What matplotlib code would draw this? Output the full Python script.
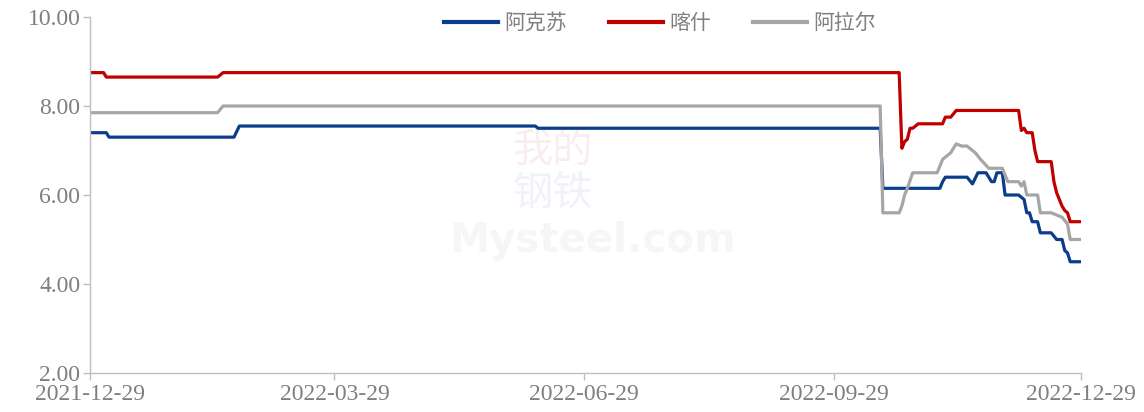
import pandas as pd
import matplotlib
matplotlib.use("Agg")
import matplotlib.pyplot as plt
import matplotlib.dates as mdates
from matplotlib.ticker import FormatStrFormatter

plt.rcParams['font.family'] = ['Liberation Serif', 'Noto Sans CJK SC', 'DejaVu Sans']

# 阿克苏
aks_dates = ["2021-12-29", "2022-01-04", "2022-01-05", "2022-02-20", "2022-02-22",
             "2022-06-11", "2022-06-12", "2022-10-16", "2022-10-17", "2022-11-07",
             "2022-11-08", "2022-11-09", "2022-11-17", "2022-11-19", "2022-11-21",
             "2022-11-24", "2022-11-26", "2022-11-27", "2022-11-28", "2022-11-30",
             "2022-12-01", "2022-12-06", "2022-12-07", "2022-12-08", "2022-12-09",
             "2022-12-10", "2022-12-11", "2022-12-13", "2022-12-14", "2022-12-18",
             "2022-12-20", "2022-12-22", "2022-12-23", "2022-12-24", "2022-12-25",
             "2022-12-30"]
aks_vals = [7.40, 7.40, 7.30, 7.30, 7.55,
            7.55, 7.50, 7.50, 6.15, 6.15,
            6.30, 6.40, 6.40, 6.25, 6.50,
            6.50, 6.30, 6.30, 6.50, 6.50,
            6.00, 6.00, 5.95, 5.90, 5.60,
            5.60, 5.40, 5.40, 5.15, 5.15,
            5.00, 5.00, 4.75, 4.70, 4.50,
            4.50]

# 喀什
ks_dates = ["2021-12-29", "2022-01-03", "2022-01-04", "2022-02-14", "2022-02-16",
            "2022-10-23", "2022-10-24", "2022-10-25", "2022-10-26", "2022-10-27",
            "2022-10-28", "2022-10-30", "2022-11-08", "2022-11-09", "2022-11-11",
            "2022-11-13", "2022-12-06", "2022-12-07", "2022-12-08", "2022-12-09",
            "2022-12-11", "2022-12-12", "2022-12-13", "2022-12-18", "2022-12-19",
            "2022-12-20", "2022-12-22", "2022-12-23", "2022-12-24", "2022-12-25",
            "2022-12-30"]
ks_vals = [8.75, 8.75, 8.65, 8.65, 8.75,
           8.75, 7.05, 7.20, 7.25, 7.50,
           7.50, 7.60, 7.60, 7.75, 7.75,
           7.90, 7.90, 7.45, 7.50, 7.40,
           7.40, 7.00, 6.75, 6.75, 6.30,
           6.05, 5.75, 5.65, 5.60, 5.40,
           5.40]

# 阿拉尔
ale_dates = ["2021-12-29", "2022-02-14", "2022-02-16", "2022-10-16", "2022-10-17",
             "2022-10-23", "2022-10-24", "2022-10-25", "2022-10-26", "2022-10-28",
             "2022-11-06", "2022-11-08", "2022-11-10", "2022-11-11", "2022-11-13",
             "2022-11-15", "2022-11-17", "2022-11-20", "2022-11-22", "2022-11-25",
             "2022-11-30", "2022-12-02", "2022-12-06", "2022-12-07", "2022-12-08",
             "2022-12-09", "2022-12-13", "2022-12-14", "2022-12-18", "2022-12-20",
             "2022-12-22", "2022-12-24", "2022-12-25", "2022-12-30"]
ale_vals = [7.85, 7.85, 8.00, 8.00, 5.60,
            5.60, 5.75, 6.00, 6.15, 6.50,
            6.50, 6.80, 6.90, 6.95, 7.15,
            7.10, 7.10, 6.95, 6.80, 6.60,
            6.60, 6.30, 6.30, 6.20, 6.30,
            6.00, 6.00, 5.60, 5.60, 5.55,
            5.50, 5.35, 5.00, 5.00]

tick_dates = ["2021-12-29", "2022-03-29", "2022-06-29", "2022-09-29", "2022-12-29"]
y_ticks = [2, 4, 6, 8, 10]

series = [
    ("阿克苏", aks_dates, aks_vals, "#0b3d8c"),
    ("喀什", ks_dates, ks_vals, "#c00000"),
    ("阿拉尔", ale_dates, ale_vals, "#a6a6a6"),
]


def main():
    fig = plt.figure(figsize=(11.44, 4.12), dpi=100)
    ax = fig.add_axes([0.0787, 0.0947, 0.8663, 0.864])

    # faint watermark
    wm = dict(fontsize=29, family=["Noto Sans CJK SC"], ha="center", va="center")
    fig.text(0.483, 0.635, "我的", color="#c00000", alpha=0.07, **wm)
    fig.text(0.483, 0.53, "钢铁", color="#3050a0", alpha=0.07, **wm)
    fig.text(0.518, 0.415, "Mysteel.com", fontsize=29, color="#808080", alpha=0.07,
             family=["DejaVu Sans"], weight="bold", ha="center", va="center")

    for name, d, v, c in series:
        ax.plot(pd.to_datetime(d), v, color=c, linewidth=2.3, label=name)

    ax.set_ylim(2, 10)
    ax.set_xlim(pd.Timestamp("2021-12-29"), pd.Timestamp("2022-12-29"))
    ax.set_yticks(y_ticks)
    ax.yaxis.set_major_formatter(FormatStrFormatter("%.2f"))
    ax.set_xticks(pd.to_datetime(tick_dates))
    ax.xaxis.set_major_formatter(mdates.DateFormatter("%Y-%m-%d"))

    for s in ["top", "right"]:
        ax.spines[s].set_visible(False)
    for s in ["left", "bottom"]:
        ax.spines[s].set_color("#bfbfbf")
        ax.spines[s].set_linewidth(1.0)
    ax.tick_params(axis="both", colors="#bfbfbf", labelcolor="#7f7f7f",
                   labelsize=17, length=5, width=1.0)
    ax.tick_params(axis="x", pad=3)
    ax.tick_params(axis="y", pad=2)
    for lab in ax.get_xticklabels():
        lab.set_clip_on(False)

    leg = fig.legend(loc="center", bbox_to_anchor=(0.577, 0.944), ncol=3,
                     frameon=False, prop={"family": ["Noto Sans CJK SC"], "size": 15},
                     handlelength=2.6, handletextpad=0.3, columnspacing=2.0)
    for t in leg.get_texts():
        t.set_color("#7f7f7f")
    for line in leg.get_lines():
        line.set_linewidth(3)

    fig.savefig("out.png", dpi=100)


if __name__ == "__main__":
    main()
